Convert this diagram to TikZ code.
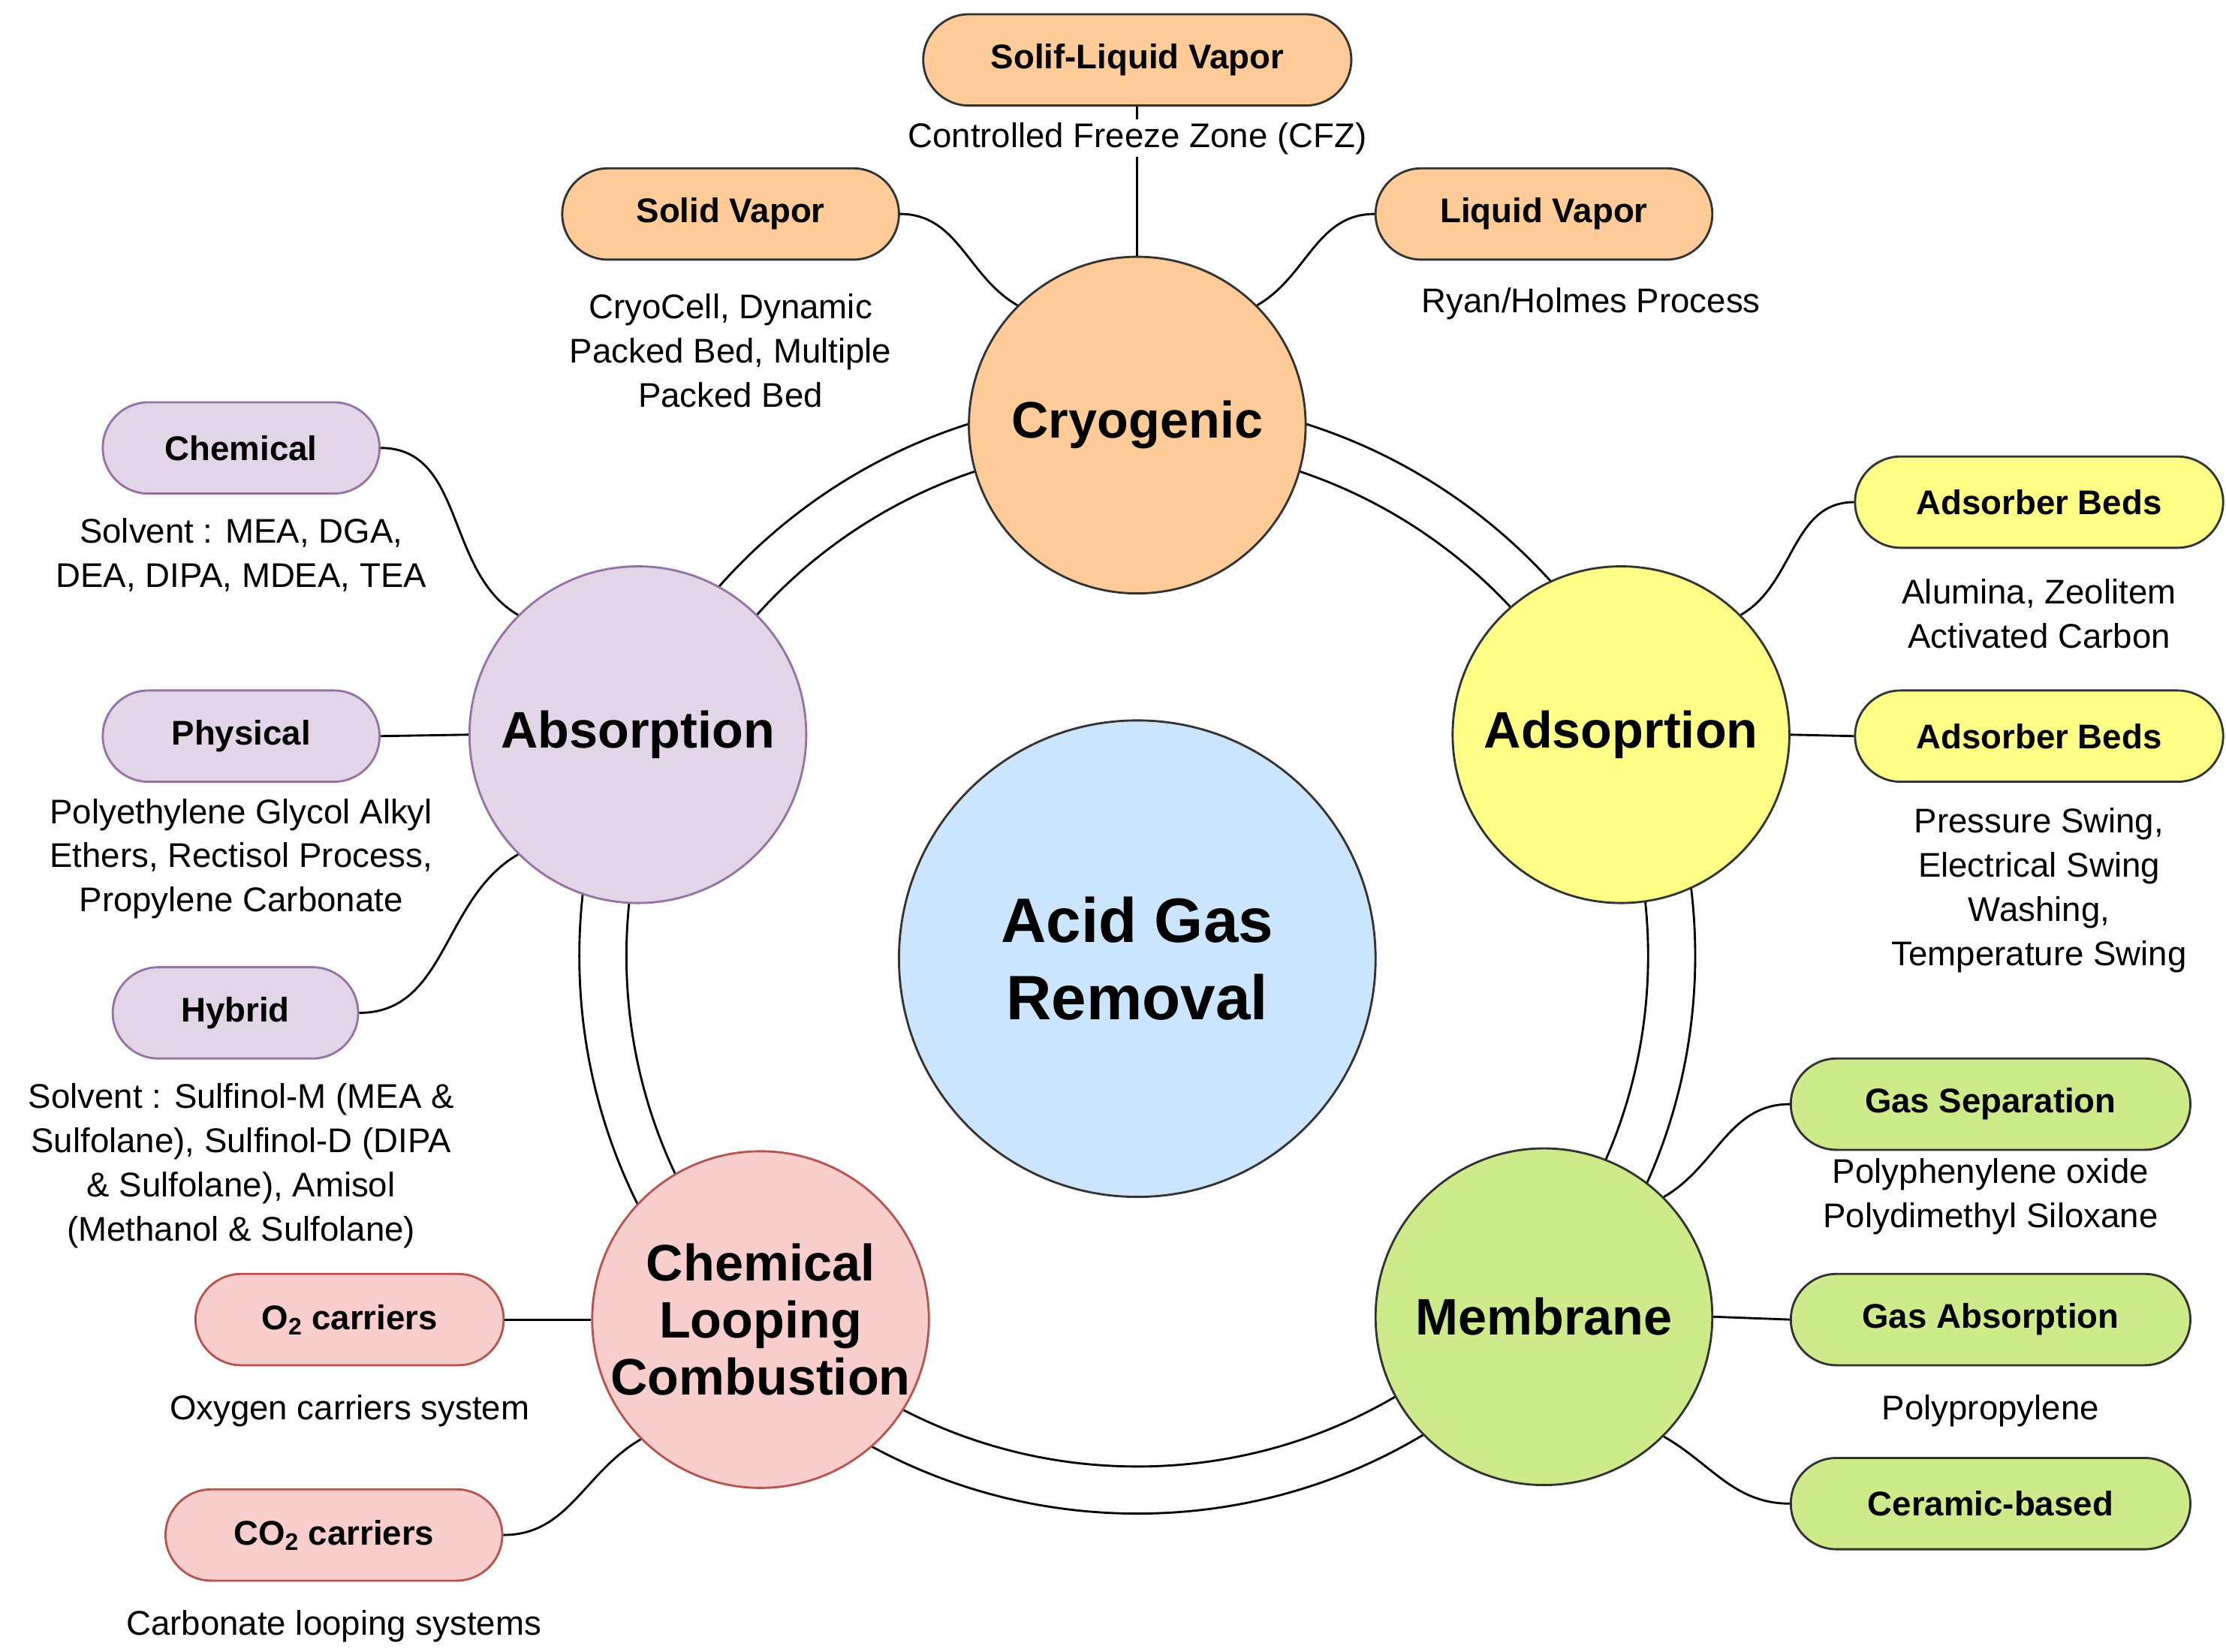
\documentclass[tikz,border=0pt]{standalone}
\usepackage{fontspec}
\setmainfont{Liberation Sans}
\begin{document}
\begin{tikzpicture}[x=1pt,y=-1pt,
 big/.style={circle,draw=black!80,line width=1.5pt,minimum size=236pt,font=\fontsize{36}{40}\selectfont\bfseries,align=center,inner sep=0pt},
 pill/.style={rounded corners=32pt,draw=black!80,line width=1.5pt,minimum height=64pt,font=\fontsize{24}{28}\selectfont\bfseries,inner sep=0pt},
 lab/.style={font=\fontsize{24}{31}\selectfont,align=center},
 con/.style={line width=1.5pt}]
\useasboundingbox (0,0) rectangle (1560,1158);
\fill[white] (0,0) rectangle (1560,1158);
\draw[con] (797,670) circle (391);
\draw[con] (797,670) circle (358);
\node[circle,draw=black!80,line width=1.5pt,fill={rgb,255:red,204;green,229;blue,255},minimum size=334pt,font=\fontsize{44}{54}\selectfont\bfseries,align=center] (agr) at (797,672) {Acid Gas\\Removal};
\node[big,fill={rgb,255:red,255;green,204;blue,153}] (cry) at (797,298) {Cryogenic};
\node[big,fill={rgb,255:red,225;green,213;blue,231},draw={rgb,255:red,150;green,115;blue,166}] (abs) at (447,515) {Absorption};
\node[big,fill={rgb,255:red,255;green,255;blue,136}] (ads) at (1136,515) {Adsoprtion};
\node[big,fill={rgb,255:red,205;green,235;blue,139}] (mem) at (1082,923) {Membrane};
\node[big,fill={rgb,255:red,248;green,206;blue,204},draw={rgb,255:red,184;green,84;blue,80}] (clc) at (533,925) {Chemical\\Looping\\Combustion};
\tikzset{orp/.style={pill,fill={rgb,255:red,255;green,204;blue,153}},
 pup/.style={pill,fill={rgb,255:red,225;green,213;blue,231},draw={rgb,255:red,150;green,115;blue,166}},
 yep/.style={pill,fill={rgb,255:red,255;green,255;blue,136}},
 grp/.style={pill,fill={rgb,255:red,205;green,235;blue,139}},
 rep/.style={pill,fill={rgb,255:red,248;green,206;blue,204},draw={rgb,255:red,184;green,84;blue,80}}}
\node[orp,minimum width=300pt] (slv) at (797,42) {Solif-Liquid Vapor};
\node[orp,minimum width=236pt] (sv) at (512,150) {Solid Vapor};
\node[orp,minimum width=236pt] (lv) at (1082,150) {Liquid Vapor};
\node[pup,minimum width=194pt] (che) at (169,314) {Chemical};
\node[pup,minimum width=194pt] (phy) at (169,516) {Physical};
\node[pup,minimum width=172pt] (hyb) at (165,710) {Hybrid};
\node[yep,minimum width=258pt] (ab1) at (1429,352) {Adsorber Beds};
\node[yep,minimum width=258pt] (ab2) at (1429,516) {Adsorber Beds};
\node[grp,minimum width=280pt] (gs) at (1395,774) {Gas Separation};
\node[grp,minimum width=280pt] (ga) at (1395,925) {Gas Absorption};
\node[grp,minimum width=280pt] (cb) at (1395,1054) {Ceramic-based};
\node[rep,minimum width=216pt] (o2) at (245,925) {O\textsubscript{2} carriers};
\node[rep,minimum width=236pt] (co2) at (234,1076) {CO\textsubscript{2} carriers};
\draw[con] (slv.south) -- (cry.north);
\node[lab,fill=white,inner sep=2pt] (t1) at (797,97) {Controlled Freeze Zone (CFZ)};
\draw[con] (sv.east) to[out=0,in=150] (cry.135);
\draw[con] (lv.west) to[out=180,in=30] (cry.45);
\draw[con] (che.east) to[out=0,in=150] (abs.135);
\draw[con] (phy.east) -- (abs.west);
\draw[con] (hyb.east) to[out=0,in=210] (abs.225);
\draw[con] (ab1.west) to[out=180,in=30] (ads.45);
\draw[con] (ab2.west) -- (ads.east);
\draw[con] (gs.west) to[out=180,in=30] (mem.45);
\draw[con] (ga.west) -- (mem.east);
\draw[con] (cb.west) to[out=180,in=330] (mem.315);
\draw[con] (o2.east) -- (clc.west);
\draw[con] (co2.east) to[out=0,in=210] (clc.225);
\node[lab] (t2) at (512,246) {CryoCell, Dynamic\\Packed Bed, Multiple\\Packed Bed};
\node[lab] (t3) at (1115,213) {Ryan/Holmes Process};
\node[lab] (t4) at (169,389) {Solvent : MEA, DGA,\\DEA, DIPA, MDEA, TEA};
\node[lab] (t5) at (169,602) {Polyethylene Glycol Alkyl\\Ethers, Rectisol Process,\\Propylene Carbonate};
\node[lab] (t6) at (169,817) {Solvent : Sulfinol-M (MEA \&\\Sulfolane), Sulfinol-D (DIPA\\\& Sulfolane), Amisol\\(Methanol \& Sulfolane)};
\node[lab] (t7) at (1429,430) {Alumina, Zeolitem\\Activated Carbon};
\node[lab] (t8) at (1429,624) {Pressure Swing,\\Electrical Swing\\Washing,\\Temperature Swing};
\node[lab] (t9) at (1395,839) {Polyphenylene oxide\\Polydimethyl Siloxane};
\node[lab] (t10) at (1395,989) {Polypropylene};
\node[lab] (t11) at (245,989) {Oxygen carriers system};
\node[lab] (t12) at (234,1140) {Carbonate looping systems};
\end{tikzpicture}
\end{document}
